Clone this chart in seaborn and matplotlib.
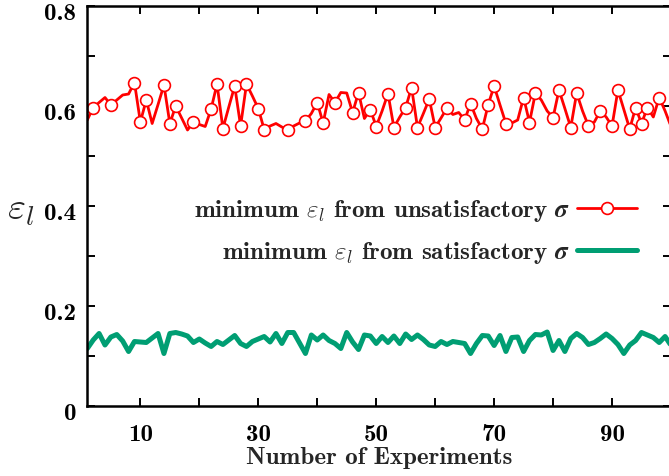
import numpy as np
import pandas as pd
import matplotlib
matplotlib.use("Agg")
import matplotlib.pyplot as plt
from matplotlib.lines import Line2D
from matplotlib.transforms import ScaledTranslation
import seaborn as sns

# ---- data -------------------------------------------------------------
experiments = list(range(1, 101))

eps_unsatisfactory = [
    0.572, 0.597, 0.607, 0.617, 0.602, 0.612, 0.622, 0.624, 0.647, 0.568,
    0.612, 0.565, 0.603, 0.642, 0.565, 0.600, 0.576, 0.552, 0.568, 0.563,
    0.559, 0.594, 0.644, 0.555, 0.598, 0.640, 0.560, 0.644, 0.620, 0.595,
    0.553, 0.560, 0.565, 0.558, 0.552, 0.560, 0.566, 0.570, 0.585, 0.607,
    0.566, 0.623, 0.607, 0.627, 0.626, 0.587, 0.627, 0.575, 0.593, 0.559,
    0.590, 0.625, 0.557, 0.578, 0.597, 0.637, 0.557, 0.585, 0.614, 0.557,
    0.576, 0.596, 0.583, 0.587, 0.572, 0.605, 0.575, 0.554, 0.603, 0.640,
    0.602, 0.565, 0.566, 0.572, 0.617, 0.567, 0.626, 0.612, 0.590, 0.577,
    0.632, 0.595, 0.557, 0.626, 0.590, 0.560, 0.568, 0.590, 0.578, 0.560,
    0.632, 0.593, 0.554, 0.597, 0.565, 0.597, 0.578, 0.617, 0.590, 0.559,
]

eps_satisfactory = [
    0.115, 0.132, 0.145, 0.122, 0.138, 0.143, 0.130, 0.109, 0.129, 0.128,
    0.127, 0.136, 0.145, 0.105, 0.145, 0.147, 0.144, 0.140, 0.127, 0.134,
    0.126, 0.119, 0.129, 0.123, 0.132, 0.141, 0.125, 0.119, 0.129, 0.134,
    0.139, 0.128, 0.145, 0.125, 0.147, 0.147, 0.126, 0.105, 0.142, 0.132,
    0.142, 0.131, 0.125, 0.115, 0.147, 0.128, 0.113, 0.142, 0.140, 0.125,
    0.139, 0.127, 0.140, 0.125, 0.144, 0.133, 0.142, 0.133, 0.122, 0.119,
    0.129, 0.123, 0.129, 0.127, 0.125, 0.105, 0.125, 0.141, 0.140, 0.121,
    0.141, 0.109, 0.137, 0.138, 0.109, 0.131, 0.143, 0.142, 0.148, 0.111,
    0.131, 0.109, 0.135, 0.145, 0.137, 0.123, 0.127, 0.135, 0.144, 0.135,
    0.123, 0.105, 0.122, 0.131, 0.147, 0.142, 0.137, 0.127, 0.139, 0.121,
]

# experiments whose point is drawn with an open circle
marked_experiments = [
    2, 5, 9, 10, 11, 14, 15, 16, 19, 22, 23, 24, 26, 27, 28, 30, 31, 35, 38,
    40, 41, 43, 46, 47, 49, 50, 52, 53, 55, 56, 57, 59, 60, 62, 65, 66, 68,
    69, 70, 72, 75, 76, 77, 80, 81, 83, 84, 86, 88, 90, 91, 93, 94, 95, 96, 98,
]

series_labels = [
    r"minimum $\varepsilon_l$ from unsatisfactory $\boldsymbol{\sigma}$",
    r"minimum $\varepsilon_l$ from satisfactory $\boldsymbol{\sigma}$",
]

y_ticks = [0.0, 0.2, 0.4, 0.6, 0.8]
y_tick_labels = ["0", "0.2", "0.4", "0.6", "0.8"]
x_major_ticks = [10, 30, 50, 70, 90]
x_minor_ticks = [20, 40, 60, 80, 100]

# ---- style ------------------------------------------------------------
sns.set_style("ticks")
plt.rcParams["font.family"] = ["cmb10", "DejaVu Serif"]
plt.rcParams["mathtext.fontset"] = "cm"
plt.rcParams["axes.unicode_minus"] = False

RED = "#ff0000"
GREEN = "#009e73"
FS = 18

df = pd.DataFrame({
    "experiment": experiments,
    "unsat": eps_unsatisfactory,
    "sat": eps_satisfactory,
})

fig = plt.figure(figsize=(6.69, 4.76), dpi=100)
ax = fig.add_axes([87.3 / 669, 70 / 476, 583.7 / 669, 400 / 476])

mark_idx = [experiments.index(e) for e in marked_experiments]

sns.lineplot(data=df, x="experiment", y="unsat", ax=ax, color=RED, lw=2.0,
             marker="o", markevery=mark_idx, markersize=8.5,
             markerfacecolor="white", markeredgecolor=RED, markeredgewidth=1.2,
             legend=False)
sns.lineplot(data=df, x="experiment", y="sat", ax=ax, color=GREEN, lw=3.6,
             legend=False)

ax.set_xlim(1, 100)
ax.set_ylim(0, 0.8)

ax.set_yticks(y_ticks)
ax.set_yticklabels(y_tick_labels)
ax.set_yticks([0.1, 0.3, 0.5, 0.7], minor=True)
ax.set_xticks(x_major_ticks)
ax.set_xticklabels([str(v) for v in x_major_ticks])
ax.set_xticks(x_minor_ticks, minor=True)

for side in ["left", "right", "top", "bottom"]:
    ax.spines[side].set_visible(True)
    ax.spines[side].set_linewidth(1.8)
    ax.spines[side].set_color("black")

ax.tick_params(axis="both", which="both", direction="in", length=6, width=1.4,
               top=True, right=True, colors="black")
ax.tick_params(axis="y", which="major", pad=8, labelsize=FS)
ax.tick_params(axis="x", which="major", pad=13, labelsize=FS)

# y tick labels sit slightly below their ticks
shift_down = ScaledTranslation(0, -4 / 72, fig.dpi_scale_trans)
for lab in ax.get_yticklabels():
    lab.set_transform(lab.get_transform() + shift_down)

ax.set_xlabel("Number of Experiments", fontsize=FS, labelpad=1)
ax.set_ylabel(r"$\varepsilon_l$", fontsize=28, rotation=0, va="center", ha="center")
ax.yaxis.set_label_coords(-0.115, 0.49)

handles = [
    Line2D([], [], color=RED, lw=2.0, marker="o", markersize=8.5,
           markerfacecolor="white", markeredgecolor=RED, markeredgewidth=1.2),
    Line2D([], [], color=GREEN, lw=3.6),
]
ax.legend(handles, series_labels, loc="center right",
          bbox_to_anchor=(0.964, 0.435), frameon=False, markerfirst=False,
          fontsize=FS, handlelength=2.4, handletextpad=0.3, borderpad=0,
          labelspacing=0.65, numpoints=1)

fig.savefig("out.png", dpi=100)
